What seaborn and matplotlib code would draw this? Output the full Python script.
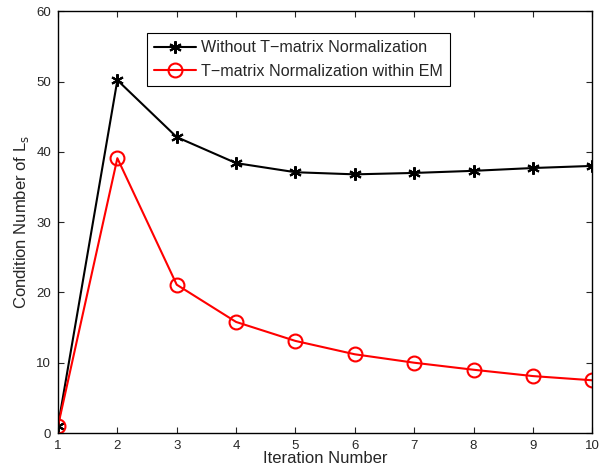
import numpy as np
import pandas as pd
import matplotlib
matplotlib.use("Agg")
import matplotlib.pyplot as plt
import seaborn as sns

iterations = [1, 2, 3, 4, 5, 6, 7, 8, 9, 10]
without_norm = [1.0, 50.2, 42.1, 38.4, 37.1, 36.8, 37.0, 37.3, 37.7, 38.0]
within_em = [1.0, 39.1, 21.1, 15.8, 13.1, 11.2, 10.0, 9.0, 8.1, 7.5]

sns.set_style("ticks")
plt.rcParams['font.family'] = ['Liberation Sans', 'DejaVu Sans']

fig = plt.figure(figsize=(6.01, 4.66), dpi=100)
ax = fig.add_axes([0.0965, 0.0708, 0.889, 0.905])

sns.lineplot(x=iterations, y=without_norm, ax=ax, color="black", lw=1.5,
             marker=(6, 2, 0), markersize=9, markeredgewidth=1.5,
             markeredgecolor="black", label="Without T\u2212matrix Normalization")
sns.lineplot(x=iterations, y=within_em, ax=ax, color="red", lw=1.5,
             marker="o", markersize=10, markerfacecolor="none",
             markeredgewidth=1.5, markeredgecolor="red",
             label="T\u2212matrix Normalization within EM")

ax.set_xlim(1, 10)
ax.set_ylim(0, 60)
ax.set_xticks(range(1, 11))
ax.set_yticks(range(0, 61, 10))
ax.tick_params(direction="in", top=True, right=True, labelsize=9.5, length=4, width=0.8, pad=5)
for s in ax.spines.values():
    s.set_linewidth(1.0)
    s.set_color("black")

ax.set_xlabel("Iteration Number", fontsize=12, labelpad=-1)
ax.set_ylabel("Condition Number of L$_\\mathrm{s}$", fontsize=12, labelpad=4)

leg = ax.legend(loc="upper left", bbox_to_anchor=(147 / 601, 1 - 33 / 466),
                bbox_transform=fig.transFigure, fontsize=11.6, frameon=True,
                fancybox=False, edgecolor="black", framealpha=1,
                borderpad=0.45, handlelength=2.6, labelspacing=0.55,
                handletextpad=0.3, borderaxespad=0)
leg.get_frame().set_linewidth(0.8)

fig.savefig("out.png", dpi=100)
